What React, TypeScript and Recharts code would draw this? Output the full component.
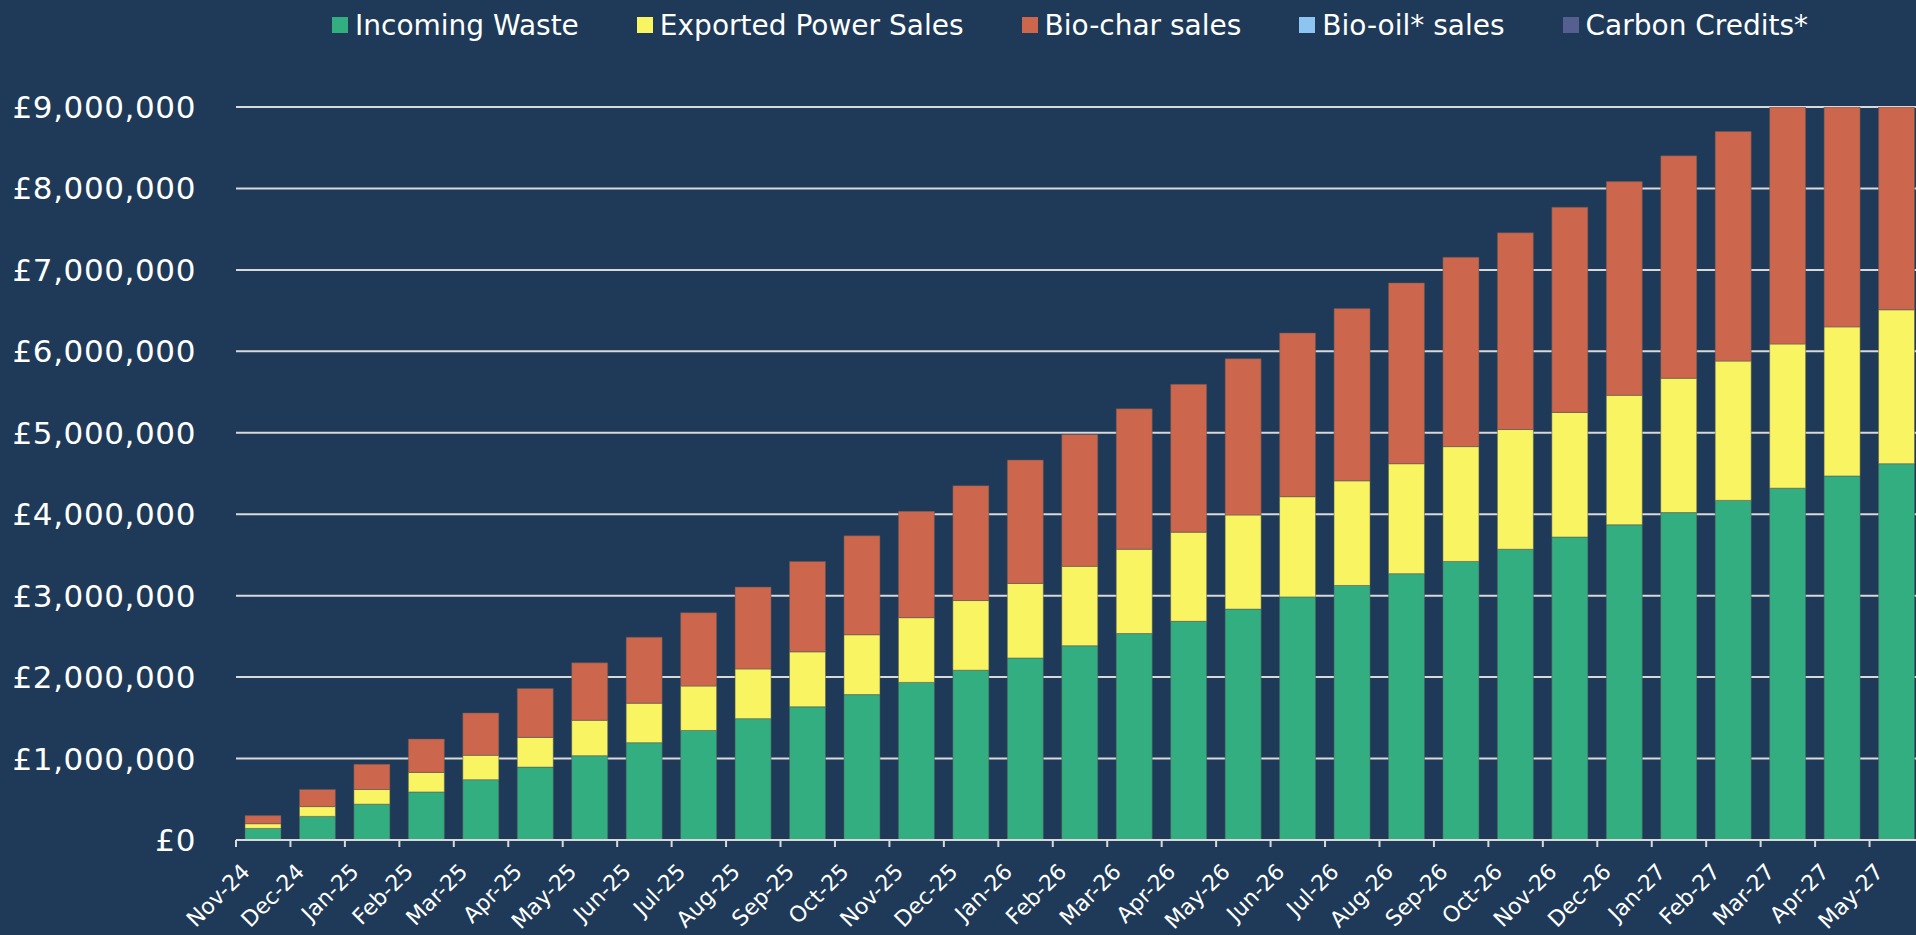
import { BarChart, Bar, XAxis, YAxis, CartesianGrid, Legend } from "recharts";

const months = [
  "Nov-24", "Dec-24", "Jan-25", "Feb-25", "Mar-25", "Apr-25", "May-25", "Jun-25",
  "Jul-25", "Aug-25", "Sep-25", "Oct-25", "Nov-25", "Dec-25", "Jan-26", "Feb-26",
  "Mar-26", "Apr-26", "May-26", "Jun-26", "Jul-26", "Aug-26", "Sep-26", "Oct-26",
  "Nov-26", "Dec-26", "Jan-27", "Feb-27", "Mar-27", "Apr-27", "May-27",
];

const incomingWaste = [
  142000, 290000, 440000, 590000, 740000, 895000, 1035000, 1195000, 1345000, 1490000,
  1635000, 1785000, 1935000, 2085000, 2235000, 2385000, 2535000, 2685000, 2835000, 2985000,
  3125000, 3270000, 3420000, 3570000, 3720000, 3870000, 4020000, 4170000, 4320000, 4470000,
  4620000,
];

const exportedPower = [
  58000, 120000, 180000, 240000, 300000, 365000, 435000, 485000, 545000, 610000,
  675000, 735000, 795000, 855000, 915000, 975000, 1035000, 1095000, 1155000, 1230000,
  1285000, 1350000, 1410000, 1470000, 1530000, 1590000, 1650000, 1710000, 1770000, 1830000,
  1890000,
];

const bioChar = [
  100000, 210000, 310000, 410000, 520000, 600000, 705000, 810000, 900000, 1005000,
  1110000, 1215000, 1305000, 1410000, 1515000, 1620000, 1725000, 1815000, 1920000, 2010000,
  2115000, 2220000, 2325000, 2415000, 2520000, 2625000, 2730000, 2820000, 2920000, 3020000,
  3120000,
];

const bioOil = [
  0, 0, 0, 0, 0, 0, 0, 0, 0, 0, 0, 0, 0, 0, 0, 0, 0, 0, 0, 0, 0, 0, 0, 0, 0, 0, 0, 0, 0, 0, 0,
];

const carbonCredits = [
  0, 0, 0, 0, 0, 0, 0, 0, 0, 0, 0, 0, 0, 0, 0, 0, 0, 0, 0, 0, 0, 0, 0, 0, 0, 0, 0, 0, 0, 0, 0,
];

const yTicks = [0, 1000000, 2000000, 3000000, 4000000, 5000000, 6000000, 7000000, 8000000, 9000000];

const series = [
  { key: "Incoming Waste", color: "#33ae81" },
  { key: "Exported Power Sales", color: "#f9f462" },
  { key: "Bio-char sales", color: "#cc664c" },
  { key: "Bio-oil* sales", color: "#8dc5f0" },
  { key: "Carbon Credits*", color: "#556090" },
];

const data = months.map((m, i) => ({
  month: m,
  "Incoming Waste": incomingWaste[i],
  "Exported Power Sales": exportedPower[i],
  "Bio-char sales": bioChar[i],
  "Bio-oil* sales": bioOil[i],
  "Carbon Credits*": carbonCredits[i],
}));

const BG = "#1e3a58";
const FONT = "DejaVu Sans";
const CHART_W = 1924;
const CHART_H = 935;
const Y_W = 236;
const BAND = (CHART_W - Y_W) / months.length;

const fmtPound = (v: number) => `£${v.toLocaleString("en-GB")}`;

function MonthTick(props: any) {
  const { x, y, payload } = props;
  const tx = x - BAND / 2;
  const lx = x - 12;
  const ly = y + 33;
  return (
    <g>
      <line x1={tx} x2={tx} y1={y} y2={y + 7} stroke="#d9d9d9" strokeWidth={2} />
      <text
        x={lx}
        y={ly}
        textAnchor="end"
        fill="#ffffff"
        fontSize={22}
        fontFamily={FONT}
        transform={`rotate(-45, ${lx}, ${ly})`}
      >
        {payload.value}
      </text>
    </g>
  );
}

function LegendContent() {
  return (
    <div
      style={{
        height: 50,
        display: "flex",
        alignItems: "center",
        paddingLeft: 332,
        gap: 58,
        fontFamily: FONT,
        fontSize: 28,
        color: "#ffffff",
        whiteSpace: "nowrap",
      }}
    >
      {series.map((s) => (
        <div key={s.key} style={{ display: "flex", alignItems: "center" }}>
          <span
            style={{ display: "inline-block", width: 16, height: 16, background: s.color, marginRight: 7 }}
          />
          <span>{s.key}</span>
        </div>
      ))}
    </div>
  );
}

export default function App() {
  return (
    <div
      style={{
        position: "fixed",
        top: 0,
        left: 0,
        width: 1916,
        height: 935,
        overflow: "hidden",
        background: BG,
      }}
    >
      <BarChart
        width={CHART_W}
        height={CHART_H}
        data={data}
        margin={{ top: 57, right: 0, bottom: 0, left: 0 }}
        barSize={36}
      >
        <CartesianGrid vertical={false} stroke="#d9d9d9" strokeWidth={2} />
        <XAxis
          dataKey="month"
          height={95}
          interval={0}
          tickLine={false}
          tickSize={0}
          tickMargin={0}
          axisLine={{ stroke: "#d9d9d9", strokeWidth: 2 }}
          tick={<MonthTick />}
        />
        <YAxis
          width={Y_W}
          domain={[0, 9000000]}
          ticks={yTicks}
          allowDataOverflow
          axisLine={false}
          tickLine={false}
          tickSize={0}
          tickMargin={40}
          tickFormatter={fmtPound}
          tick={{ fill: "#ffffff", fontSize: 31, fontFamily: FONT, letterSpacing: 0.6 }}
        />
        <Legend
          verticalAlign="top"
          align="left"
          wrapperStyle={{ top: 0, left: 0 }}
          content={<LegendContent />}
        />
        <Bar dataKey="Incoming Waste" stackId="a" fill="#33ae81" stroke="rgba(90,90,90,0.5)" strokeWidth={1} isAnimationActive={false} />
        <Bar dataKey="Exported Power Sales" stackId="a" fill="#f9f462" stroke="rgba(90,90,90,0.5)" strokeWidth={1} isAnimationActive={false} />
        <Bar dataKey="Bio-char sales" stackId="a" fill="#cc664c" stroke="rgba(90,90,90,0.5)" strokeWidth={1} isAnimationActive={false} />
        <Bar dataKey="Bio-oil* sales" stackId="a" fill="#8dc5f0" isAnimationActive={false} />
        <Bar dataKey="Carbon Credits*" stackId="a" fill="#556090" isAnimationActive={false} />
      </BarChart>
    </div>
  );
}
